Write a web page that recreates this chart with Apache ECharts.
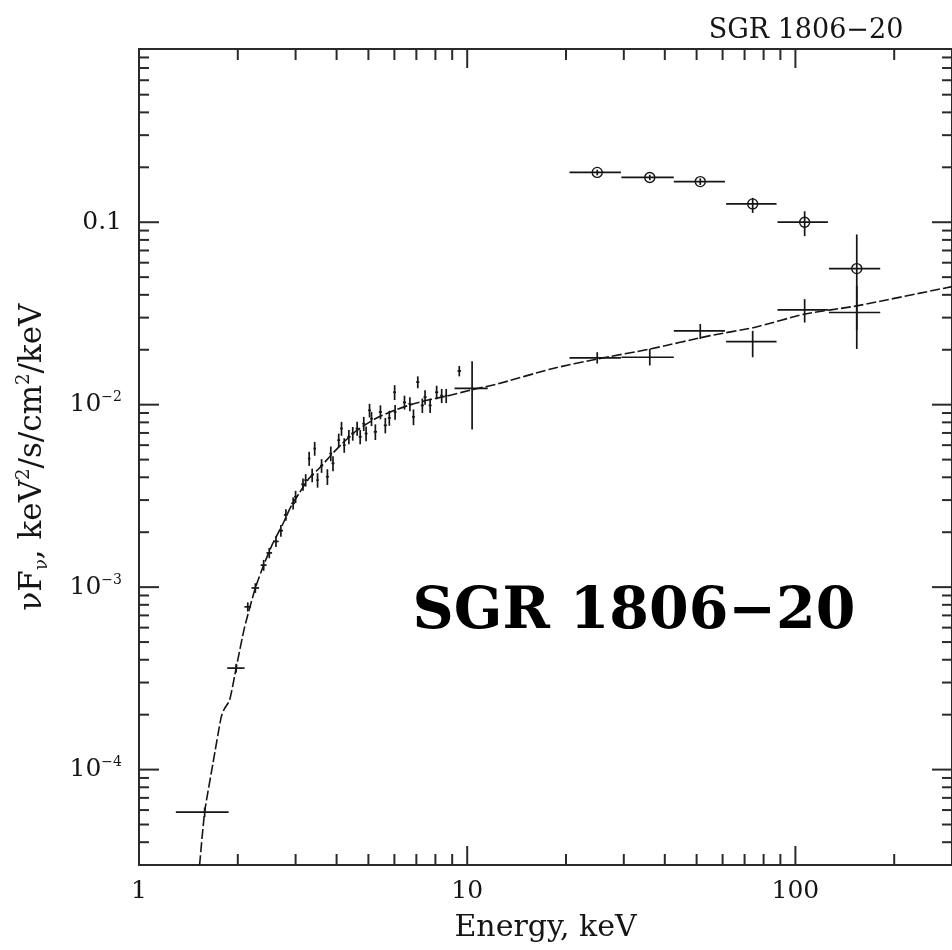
<!DOCTYPE html>
<html><head><meta charset="utf-8">
<script src="https://cdn.jsdelivr.net/npm/echarts@6/dist/echarts.min.js"></script>
<style>html,body{margin:0;padding:0;background:#fff}#c{width:952px;height:950px}</style>
</head><body><div id="c"></div>
<script>
// ---- axis ranges / ticks ----
const X_MIN = 1, X_MAX = 300;
const Y_MIN = 3e-5, Y_MAX = 0.89;
const xMajorTicks = [1, 10, 100];
const xMinorTicks = [2, 3, 4, 5, 6, 7, 8, 9, 20, 30, 40, 50, 60, 70, 80, 90, 200];
const yMajorTicks = [1e-4, 1e-3, 1e-2, 0.1];
const yMinorTicks = [4e-5, 5e-5, 6e-5, 7e-5, 8e-5, 9e-5,
  2e-4, 3e-4, 4e-4, 5e-4, 6e-4, 7e-4, 8e-4, 9e-4,
  2e-3, 3e-3, 4e-3, 5e-3, 6e-3, 7e-3, 8e-3, 9e-3,
  0.02, 0.03, 0.04, 0.05, 0.06, 0.07, 0.08, 0.09,
  0.2, 0.3, 0.4, 0.5, 0.6, 0.7, 0.8];

// ---- low-energy spectrum (crosses) ----
const lowE  = [1.585, 1.977, 2.145, 2.262, 2.398, 2.494, 2.614, 2.706, 2.803, 2.949, 3.00, 3.16, 3.22, 3.30, 3.37, 3.43, 3.50, 3.60, 3.75, 3.84, 3.90, 4.06, 4.14, 4.22, 4.36, 4.48, 4.62, 4.72, 4.84, 4.92, 5.04, 5.11, 5.25, 5.44, 5.63, 5.79, 6.01, 6.03, 6.44, 6.69, 6.86, 7.07, 7.30, 7.44, 7.71, 8.07, 8.36, 8.63, 9.46, 10.35];
const lowDE = [0.29, 0.12, 0.05, 0.06, 0.05, 0.05, 0.05, 0.04, 0.04, 0.04, 0.03, 0.04, 0.03, 0.03, 0.03, 0.03, 0.03, 0.04, 0.04, 0.04, 0.04, 0.04, 0.04, 0.04, 0.05, 0.05, 0.05, 0.05, 0.05, 0.05, 0.05, 0.05, 0.06, 0.06, 0.06, 0.06, 0.06, 0.06, 0.07, 0.07, 0.07, 0.08, 0.08, 0.08, 0.08, 0.09, 0.09, 0.09, 0.12, 1.2];
const lowV  = [5.85e-5, 3.6e-4, 7.8e-4, 9.9e-4, 1.32e-3, 1.54e-3, 1.78e-3, 2.04e-3, 2.49e-3, 2.88e-3, 3.13e-3, 3.66e-3, 3.86e-3, 5.07e-3, 4.11e-3, 5.75e-3, 3.86e-3, 4.63e-3, 4.03e-3, 5.40e-3, 4.77e-3, 6.39e-3, 7.40e-3, 6.00e-3, 6.67e-3, 6.95e-3, 7.40e-3, 6.67e-3, 7.87e-3, 6.95e-3, 9.31e-3, 8.38e-3, 7.10e-3, 9.12e-3, 7.71e-3, 8.46e-3, 1.17e-2, 9.12e-3, 1.03e-2, 1.01e-2, 8.57e-3, 1.33e-2, 9.91e-3, 1.10e-2, 9.91e-3, 1.17e-2, 1.12e-2, 1.12e-2, 1.53e-2, 1.23e-2];
const lowDV = [0.35e-5, 0.2e-4, 0.45e-4, 0.6e-4, 0.09e-3, 0.1e-3, 0.12e-3, 0.15e-3, 0.18e-3, 0.22e-3, 0.24e-3, 0.28e-3, 0.3e-3, 0.45e-3, 0.35e-3, 0.5e-3, 0.35e-3, 0.4e-3, 0.4e-3, 0.5e-3, 0.45e-3, 0.55e-3, 0.65e-3, 0.55e-3, 0.6e-3, 0.6e-3, 0.65e-3, 0.6e-3, 0.7e-3, 0.65e-3, 0.8e-3, 0.75e-3, 0.7e-3, 0.8e-3, 0.75e-3, 0.8e-3, 1.1e-3, 0.85e-3, 0.9e-3, 0.9e-3, 0.85e-3, 1.0e-3, 0.9e-3, 1.0e-3, 0.9e-3, 1.0e-3, 1.0e-3, 1.0e-3, 1.0e-3, 5.0e-3];

// ---- hard X-ray bins (shared by both high-energy series) ----
const hiE   = [24.9, 36.0, 51.3, 74.1, 106.7, 153.8];
const hiElo = [20.5, 29.5, 42.6, 61.5, 88.2, 126.5];
const hiEhi = [29.4, 42.6, 61.0, 87.6, 125.6, 181.3];
// persistent emission (crosses)
const crossV   = [0.01805, 0.0182, 0.0254, 0.02215, 0.0331, 0.032];
const crossVlo = [0.0168, 0.0164, 0.0229, 0.0182, 0.0282, 0.0202];
const crossVhi = [0.0194, 0.0202, 0.0277, 0.0254, 0.0379, 0.0448];
// circles
const circV   = [0.1875, 0.176, 0.167, 0.126, 0.100, 0.0557];
const circVlo = [0.181, 0.170, 0.160, 0.1125, 0.0839, 0.0257];
const circVhi = [0.194, 0.182, 0.174, 0.136, 0.1148, 0.0857];

// ---- model curve ----
const modelE = [1.53, 1.585, 1.68, 1.78, 1.82, 1.887, 1.977, 2.096, 2.262, 2.398, 2.55, 2.737, 2.9, 3.075, 3.3, 3.58, 3.85, 4.16, 4.6, 5.25, 5.9, 6.63, 7.6, 8.76, 10.4, 12.4, 18.0, 24.9, 36.1, 55.0, 74.8, 107, 153.8, 300];
const modelV = [3.0e-5, 5.85e-5, 1.08e-4, 1.94e-4, 2.15e-4, 2.39e-4, 3.6e-4, 6.0e-4, 9.9e-4, 1.32e-3, 1.72e-3, 2.2e-3, 2.75e-3, 3.27e-3, 3.95e-3, 4.57e-3, 5.3e-3, 6.12e-3, 7.2e-3, 8.38e-3, 9.2e-3, 9.91e-3, 1.06e-2, 1.12e-2, 1.21e-2, 1.30e-2, 1.57e-2, 1.78e-2, 2.02e-2, 2.39e-2, 2.65e-2, 3.14e-2, 3.48e-2, 4.44e-2];

const titleText = 'SGR 1806−20';
const FONT = '"DejaVu Serif", "Liberation Serif", serif';
const INK = '#151515';
const FRAME = '#2a2a2a';

function tickSeries(values, dir, len) {
  return {
    type: 'custom', silent: true, z: 6, clip: false,
    data: values.map(v => dir === 'x' ? [v, Y_MIN] : [X_MIN, v]),
    renderItem(params, api) {
      const cs = params.coordSys;
      const p = api.coord([api.value(0), api.value(1)]);
      const style = { stroke: FRAME, lineWidth: 2 };
      if (dir === 'x') {
        const yb = cs.y + cs.height, yt = cs.y;
        return { type: 'group', children: [
          { type: 'line', shape: { x1: p[0], y1: yb, x2: p[0], y2: yb - len }, style },
          { type: 'line', shape: { x1: p[0], y1: yt, x2: p[0], y2: yt + len }, style }
        ]};
      }
      const xl = cs.x, xr = cs.x + cs.width;
      return { type: 'group', children: [
        { type: 'line', shape: { x1: xl, y1: p[1], x2: xl + len, y2: p[1] }, style },
        { type: 'line', shape: { x1: xr, y1: p[1], x2: xr - len, y2: p[1] }, style }
      ]};
    }
  };
}

function errSeries(rows, withCircle) {
  return {
    type: 'custom', silent: true, z: 4, clip: true,
    data: rows,
    renderItem(params, api) {
      const e = api.value(0), v = api.value(1);
      const c = api.coord([e, v]);
      const l = api.coord([api.value(2), v]), r = api.coord([api.value(3), v]);
      const b = api.coord([e, api.value(4)]), t = api.coord([e, api.value(5)]);
      const style = { stroke: INK, lineWidth: 1.7, fill: null };
      const ch = [
        { type: 'line', shape: { x1: l[0], y1: c[1], x2: r[0], y2: c[1] }, style },
        { type: 'line', shape: { x1: c[0], y1: t[1], x2: c[0], y2: b[1] }, style }
      ];
      if (withCircle) ch.push({ type: 'circle', shape: { cx: c[0], cy: c[1], r: 5 }, style: { stroke: INK, lineWidth: 1.4, fill: 'none' } });
      return { type: 'group', children: ch };
    }
  };
}

const lowRows = lowE.map((e, i) => [e, lowV[i], e - lowDE[i], e + lowDE[i], lowV[i] - lowDV[i], lowV[i] + lowDV[i]]);
const crossRows = hiE.map((e, i) => [e, crossV[i], hiElo[i], hiEhi[i], crossVlo[i], crossVhi[i]]);
const circRows = hiE.map((e, i) => [e, circV[i], hiElo[i], hiEhi[i], circVlo[i], circVhi[i]]);

const chart = echarts.init(document.getElementById('c'), null, { renderer: 'canvas' });
chart.setOption({
  backgroundColor: '#fff',
  animation: false,
  textStyle: { fontFamily: FONT },
  grid: { left: 139, top: 49, width: 817, height: 819, show: true, borderColor: FRAME, borderWidth: 2, backgroundColor: 'transparent', containLabel: false },
  xAxis: {
    type: 'log', logBase: 10, min: X_MIN, max: X_MAX,
    name: 'Energy, keV', nameLocation: 'middle', nameGap: 46,
    nameTextStyle: { fontFamily: FONT, fontSize: 30, color: INK, lineHeight: 34 },
    axisLine: { show: false }, axisTick: { show: false }, splitLine: { show: false },
    axisLabel: { fontFamily: FONT, fontSize: 25, color: INK, margin: 14, showMinLabel: true, showMaxLabel: false,
      formatter: v => String(Math.round(v)) }
  },
  yAxis: {
    type: 'log', logBase: 10, min: Y_MIN, max: Y_MAX,
    name: 'νF{sub|ν}, keV{sup|2}/s/cm{sup|2}/keV', nameLocation: 'middle', nameGap: 88, nameRotate: 90,
    nameTextStyle: { fontFamily: FONT, fontSize: 31, color: INK, lineHeight: 36,
      rich: {
        sub: { fontFamily: FONT, fontSize: 18, color: INK, verticalAlign: 'bottom', lineHeight: 16 },
        sup: { fontFamily: FONT, fontSize: 18, color: INK, verticalAlign: 'top', lineHeight: 24 }
      } },
    axisLine: { show: false }, axisTick: { show: false }, splitLine: { show: false },
    axisLabel: { margin: 17, showMinLabel: false, showMaxLabel: false,
      formatter: v => { const ex = Math.round(Math.log10(v)); return ex === -1 ? '{b|0.1}' : '{b|10}{s|−' + (-ex) + '}'; },
      rich: {
        b: { fontFamily: FONT, fontSize: 25, color: INK, lineHeight: 28 },
        s: { fontFamily: FONT, fontSize: 14, color: INK, verticalAlign: 'top', lineHeight: 20 }
      } }
  },
  graphic: [
    { type: 'text', x: 806, y: 31, style: { text: titleText, font: '27px ' + FONT, fill: INK, align: 'center', verticalAlign: 'middle' } },
    { type: 'text', x: 634, y: 613, style: { text: titleText, font: 'bold 57px ' + FONT, fill: '#000', align: 'center', verticalAlign: 'middle' } }
  ],
  series: [
    { type: 'line', data: modelE.map((e, i) => [e, modelV[i]]), symbol: 'none', showSymbol: false, smooth: 0.2, z: 3,
      lineStyle: { color: INK, width: 1.6, type: [10, 3] }, silent: true },
    errSeries(lowRows, false),
    errSeries(crossRows, false),
    errSeries(circRows, true),
    tickSeries(xMajorTicks, 'x', 19),
    tickSeries(xMinorTicks, 'x', 11),
    tickSeries(yMajorTicks, 'y', 20),
    tickSeries(yMinorTicks, 'y', 10)
  ]
});
</script></body></html>
